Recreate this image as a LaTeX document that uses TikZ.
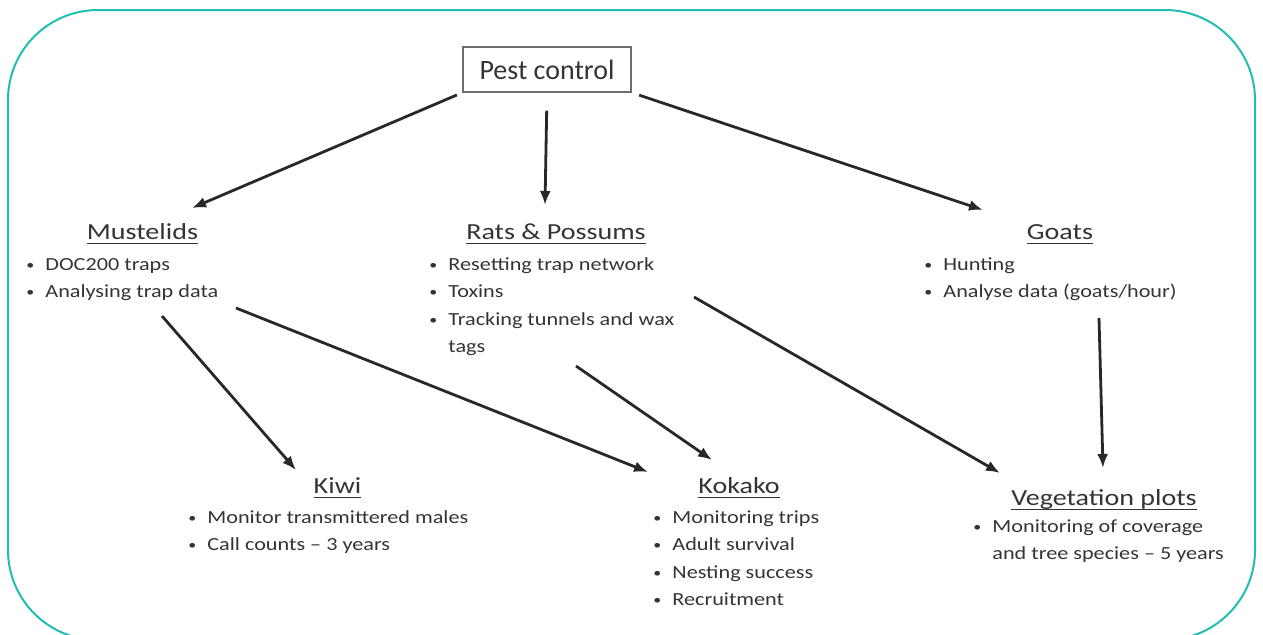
\documentclass[tikz,border=0pt]{standalone}
\usepackage{fontspec}
\setmainfont{Carlito}
\newfontfamily\headfont{Carlito}[FakeStretch=1.22]
\newfontfamily\itemfont{Carlito}[FakeStretch=1.2]
\usetikzlibrary{arrows.meta}
\definecolor{frameteal}{RGB}{32,189,181}
\definecolor{inkgrey}{RGB}{52,52,52}
\definecolor{arrowgrey}{RGB}{40,40,40}
\definecolor{boxgrey}{RGB}{110,110,110}
\newcommand\hdline[1]{\setbox0\hbox{#1}\rlap{\rule[-2.6pt]{\wd0}{0.8pt}}\box0}
\newcommand\bul{\llap{\makebox[15pt][c]{\raisebox{0.5pt}{\scalebox{0.72}{\textbullet}}}}}

\begin{document}
\begin{tikzpicture}[x=0.5pt,y=-0.5pt]
  \tikzstyle{HeadStyle}=[inner sep=0pt,anchor=base,text=inkgrey,font=\headfont\fontsize{11.5}{13.8}\selectfont]
  \tikzstyle{ListStyle}=[inner sep=0pt,anchor=north west,align=left,text=inkgrey,font=\itemfont\fontsize{9.25}{13.65}\selectfont]
  \tikzstyle{EdgeStyle}=[-{Latex[length=7pt,width=5.5pt]},line width=1.4pt,draw=arrowgrey]
  \useasboundingbox (0,0) rectangle (1263,634);
  \begin{scope}
    \clip (0,0) rectangle (1263,634);
    \draw[frameteal,line width=1pt,rounded corners=45pt] (8,10) rectangle (1255,640);
  \end{scope}
  \node[draw=boxgrey,line width=0.6pt,minimum width=84pt,minimum height=22.5pt,inner sep=0pt,
    text=inkgrey,font=\fontsize{14}{16}\selectfont] (pest) at (547,69.5) {Pest control};
  \node[HeadStyle] (must) at (142.5,239) {\hdline{Mustelids}};
  \node[HeadStyle] (rats) at (556,239) {\hdline{Rats \& Possums}};
  \node[HeadStyle] (goats) at (1060,239) {\hdline{Goats}};
  \node[HeadStyle] (kiwi) at (337.5,493) {\hdline{Kiwi}};
  \node[HeadStyle] (kokako) at (739,493) {\hdline{Kokako}};
  \node[HeadStyle] (veg) at (1104,505) {\hdline{Vegetation plots}};
  \node[ListStyle] (mustlist) at (45,251) {\strut\bul DOC200 traps\\\bul Analysing trap data};
  \node[ListStyle] (ratslist) at (448,251) {\strut\bul Resetting trap network\\\bul Toxins\\
    \bul Tracking tunnels and wax\\tags};
  \node[ListStyle] (goatslist) at (943,251) {\strut\bul Hunting\\\bul Analyse data (goats/hour)};
  \node[ListStyle] (kiwilist) at (207,504) {\strut\bul Monitor transmittered males\\\bul Call counts – 3 years};
  \node[ListStyle] (kokakolist) at (672,504) {\strut\bul Monitoring trips\\\bul Adult survival\\
    \bul Nesting success\\\bul Recruitment};
  \node[ListStyle] (veglist) at (992,513) {\strut\bul Monitoring of coverage\\and tree species – 5 years};
  \coordinate (mustIn) at (192,208);
  \coordinate (ratsIn) at (545,205);
  \coordinate (goatsIn) at (983,210);
  \coordinate (mustOutA) at (162,316);
  \coordinate (mustOutB) at (236,308);
  \coordinate (ratsOutA) at (576,366);
  \coordinate (ratsOutB) at (694,297);
  \coordinate (goatsOut) at (1099,318);
  \coordinate (kiwiIn) at (296,470);
  \coordinate (kokakoInA) at (648,472);
  \coordinate (kokakoInB) at (712,460);
  \coordinate (vegInA) at (1000,473);
  \coordinate (vegInB) at (1103,468);
  \draw[EdgeStyle,shorten <=3pt] (pest.south west) -- (mustIn);
  \draw[EdgeStyle,shorten <=9pt] (pest.south) -- (ratsIn);
  \draw[EdgeStyle,shorten <=4pt] (pest.south east) -- (goatsIn);
  \draw[EdgeStyle] (mustOutA) -- (kiwiIn);
  \draw[EdgeStyle] (mustOutB) -- (kokakoInA);
  \draw[EdgeStyle] (ratsOutA) -- (kokakoInB);
  \draw[EdgeStyle] (ratsOutB) -- (vegInA);
  \draw[EdgeStyle] (goatsOut) -- (vegInB);
\end{tikzpicture}
\end{document}
